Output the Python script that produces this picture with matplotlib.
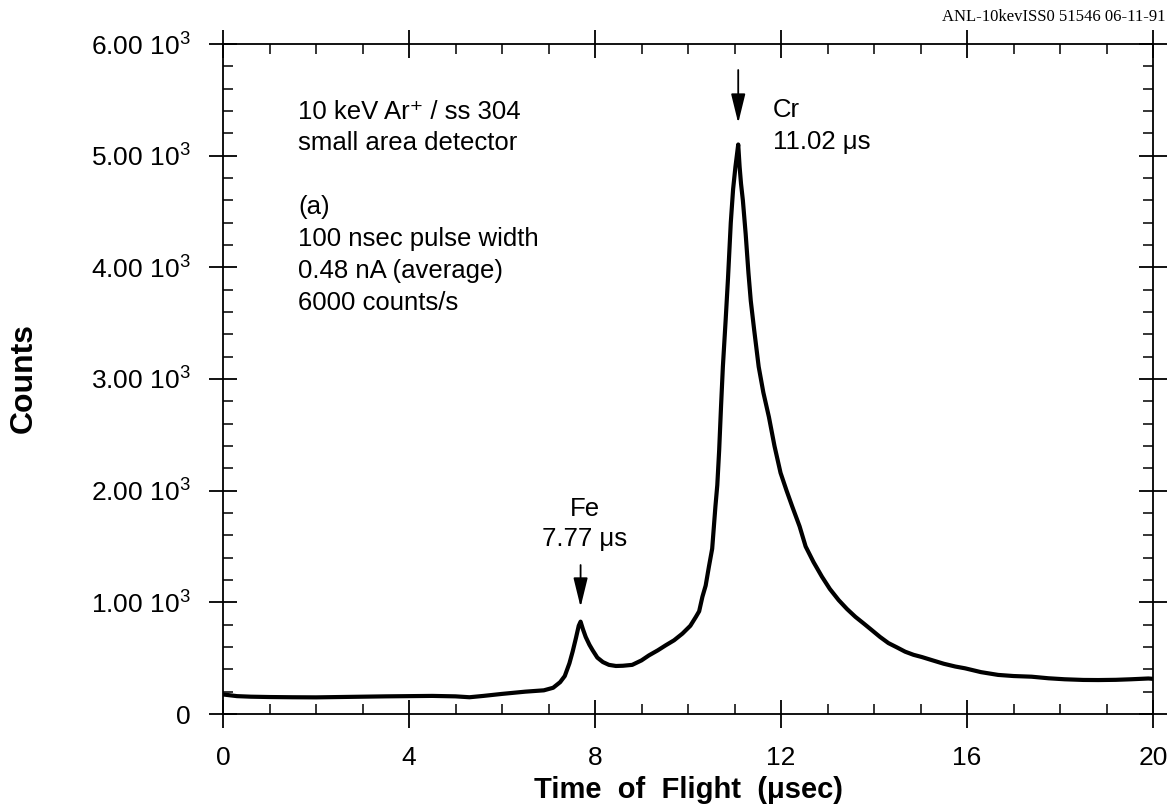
import matplotlib
matplotlib.use("Agg")
import matplotlib.pyplot as plt
from matplotlib.ticker import MultipleLocator, FuncFormatter

plt.rcParams['font.family'] = ['Liberation Sans', 'DejaVu Sans']

# time of flight (usec) and counts
tof = [0.0, 0.3, 0.6, 1.0, 1.5, 2.0, 2.5, 3.0, 3.5, 4.0, 4.5, 5.0, 5.3, 5.6,
       6.0, 6.5, 6.9, 7.1, 7.25, 7.35, 7.45, 7.52, 7.59, 7.65, 7.69, 7.74,
       7.80, 7.88, 7.95, 8.05, 8.17, 8.30, 8.45, 8.6, 8.8, 9.0, 9.16, 9.35,
       9.52, 9.7, 9.88, 10.05, 10.17, 10.24, 10.31, 10.38, 10.45, 10.52,
       10.59, 10.63, 10.67, 10.71, 10.75, 10.81, 10.86, 10.92, 10.97, 11.02,
       11.05, 11.08, 11.11, 11.14, 11.18, 11.24, 11.30, 11.35, 11.42, 11.52,
       11.62, 11.74, 11.86, 11.99, 12.12, 12.24, 12.4, 12.53, 12.7, 12.88,
       13.05, 13.24, 13.42, 13.60, 13.78, 13.95, 14.13, 14.31, 14.5, 14.67,
       14.85, 15.03, 15.24, 15.5, 15.75, 15.96, 16.3, 16.67, 17.0, 17.39,
       17.75, 18.1, 18.5, 18.82, 19.2, 19.53, 19.9, 20.0]
counts = [175, 160, 155, 152, 150, 149, 152, 155, 158, 160, 162, 158, 150, 162,
          180, 200, 212, 235, 285, 340, 454, 560, 680, 790, 827, 760,
          690, 620, 570, 505, 465, 440, 430, 432, 440, 480, 525, 570,
          615, 660, 720, 790, 870, 920, 1050, 1150, 1320, 1480,
          1860, 2050, 2360, 2750, 3110, 3530, 3900, 4400, 4700, 4900,
          5000, 5100, 4900, 4750, 4600, 4300, 3950, 3700, 3450, 3110,
          2880, 2660, 2400, 2160, 2000, 1860, 1680, 1500, 1360, 1230,
          1120, 1020, 940, 870, 810, 752, 690, 635, 595, 558,
          530, 510, 483, 450, 425, 409, 375, 350, 340, 334,
          320, 311, 305, 304, 306, 311, 318, 315]

x_ticks = [0, 4, 8, 12, 16, 20]
y_ticks = [0, 1000, 2000, 3000, 4000, 5000, 6000]

peak_names = ['Fe', 'Cr']
peak_labels = ['7.77 \u03bcs', '11.02 \u03bcs']
arrow_x = [7.69, 11.08]

info_lines = ['10 keV Ar\u207a / ss 304', 'small area detector',
              '(a)', '100 nsec pulse width', '0.48 nA (average)', '6000 counts/s']
info_y = [112, 143, 207, 239, 271, 303]

W, H = 1171, 811
fig = plt.figure(figsize=(W / 100, H / 100), dpi=100)
ax = fig.add_axes([223 / W, 1 - 714 / H, 930 / W, 670 / H])

ax.plot(tof, counts, color='black', lw=3.0, solid_joinstyle='round')

ax.set_xlim(0, 20)
ax.set_ylim(0, 6000)
ax.set_xticks(x_ticks)
ax.set_yticks(y_ticks)
ax.xaxis.set_minor_locator(MultipleLocator(1))
ax.yaxis.set_minor_locator(MultipleLocator(200))
ax.yaxis.set_major_formatter(FuncFormatter(
    lambda v, p: '0' if v == 0 else '%.2f $\\mathregular{10^3}$' % (v / 1000)))
ax.tick_params(which='major', direction='inout', length=20, width=1.3,
               top=True, right=True, labelsize=19, pad=13)
ax.tick_params(which='minor', direction='in', length=7, width=1.1,
               top=True, right=True)
ax.tick_params(axis='x', which='major', labelsize=19)
for s in ax.spines.values():
    s.set_linewidth(1.3)

fig.text(688 / W, 1 - 790 / H, 'Time  of  Flight  (\u03bcsec)', fontsize=21,
         fontweight='bold', ha='center', va='center')
fig.text(24 / W, 1 - 378 / H, 'Counts', fontsize=23, fontweight='bold',
         rotation=90, ha='center', va='center')

for line, yy in zip(info_lines, info_y):
    fig.text(298 / W, 1 - yy / H, line, fontsize=18.5, ha='left', va='center')

# Fe label
fig.text(585 / W, 1 - 509 / H, peak_names[0], fontsize=18.5, ha='center', va='center')
fig.text(585 / W, 1 - 539 / H, peak_labels[0], fontsize=18.5, ha='center', va='center')
# Cr label
fig.text(773 / W, 1 - 110 / H, peak_names[1], fontsize=18.5, ha='left', va='center')
fig.text(773 / W, 1 - 142 / H, peak_labels[1], fontsize=18.5, ha='left', va='center')

arrow_top = [1334, 5767]
arrow_tip = [958, 5292]
for xa, yt, yb in zip(arrow_x, arrow_top, arrow_tip):
    ax.annotate('', xy=(xa, yb), xytext=(xa, yt),
                arrowprops=dict(arrowstyle='-|>,head_length=0.9,head_width=0.22',
                                color='black', lw=1.3, mutation_scale=20,
                                shrinkA=0, shrinkB=0))

fig.text(1165 / W, 1 - 17 / H, 'ANL-10kevISS0 51546 06-11-91', fontsize=12,
         family='Liberation Serif', ha='right', va='center')

fig.savefig('out.png', dpi=100)
